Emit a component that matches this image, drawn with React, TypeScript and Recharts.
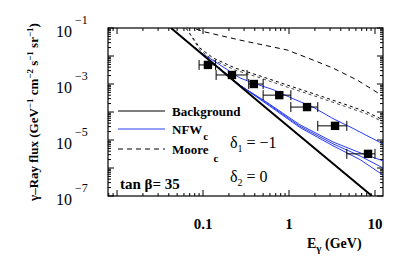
import React from 'react';
import { ComposedChart, Line, Scatter, XAxis, YAxis, ZAxis, ErrorBar, Customized } from 'recharts';

// ---------- data (energy in GeV, flux in GeV^-1 cm^-2 s^-1 sr^-1) ----------
const BACKGROUND = [
  { e: 0.0424, f: 0.1 },
  { e: 0.5, f: 1.71e-4 },
  { e: 9.23, f: 1e-7 },
];
const NFW_UPPER = [
  { e: 0.0424, f: 0.1 },
  { e: 0.092, f: 0.0139 },
  { e: 0.146, f: 5.6e-3 },
  { e: 0.269, f: 1.64e-3 },
  { e: 0.381, f: 1.09e-3 },
  { e: 0.652, f: 6.3e-4 },
  { e: 1.11, f: 3.0e-4 },
  { e: 1.9, f: 1.5e-4 },
  { e: 3.25, f: 5.8e-5 },
  { e: 5.55, f: 2.6e-5 },
  { e: 12.4, f: 7.2e-6 },
];
const NFW_LOW_A = [
  { e: 0.0424, f: 0.1 },
  { e: 0.269, f: 9e-4 },
  { e: 0.555, f: 2.2e-4 },
  { e: 1.34, f: 3.5e-5 },
  { e: 3.25, f: 8.5e-6 },
  { e: 6.7, f: 3.5e-6 },
  { e: 12.4, f: 1.8e-6 },
];
const NFW_LOW_B = [
  { e: 0.0424, f: 0.1 },
  { e: 0.269, f: 9e-4 },
  { e: 0.555, f: 2.05e-4 },
  { e: 1.34, f: 3.1e-5 },
  { e: 3.25, f: 7.3e-6 },
  { e: 6.7, f: 2.7e-6 },
  { e: 12.4, f: 1.0e-6 },
];
const NFW_LOW_C = [
  { e: 0.0424, f: 0.1 },
  { e: 0.269, f: 9e-4 },
  { e: 0.555, f: 1.9e-4 },
  { e: 1.34, f: 2.8e-5 },
  { e: 3.25, f: 6.2e-6 },
  { e: 6.7, f: 2.0e-6 },
  { e: 12.4, f: 5.6e-7 },
];
const MOORE_UPPER = [
  { e: 0.0829, f: 0.092 },
  { e: 0.1055, f: 0.072 },
  { e: 0.269, f: 0.037 },
  { e: 0.95, f: 0.0164 },
  { e: 1.9, f: 0.0072 },
  { e: 3.25, f: 0.0037 },
  { e: 6.18, f: 1.39e-3 },
  { e: 12.4, f: 3.7e-4 },
];
const MOORE_LOW_A = [
  { e: 0.0634, f: 0.1 },
  { e: 0.092, f: 0.0193 },
  { e: 0.131, f: 8.5e-3 },
  { e: 0.236, f: 3.7e-3 },
  { e: 0.425, f: 2.1e-3 },
  { e: 0.95, f: 9.2e-4 },
  { e: 2.17, f: 4.0e-4 },
  { e: 4.72, f: 1.78e-4 },
  { e: 8.07, f: 1.0e-4 },
  { e: 12.4, f: 5.2e-5 },
];
const MOORE_LOW_B = [
  { e: 0.0634, f: 0.1 },
  { e: 0.092, f: 0.0165 },
  { e: 0.131, f: 7.2e-3 },
  { e: 0.236, f: 3.15e-3 },
  { e: 0.425, f: 1.8e-3 },
  { e: 0.95, f: 7.8e-4 },
  { e: 2.17, f: 3.4e-4 },
  { e: 4.72, f: 1.5e-4 },
  { e: 8.07, f: 8.5e-5 },
  { e: 12.4, f: 4.4e-5 },
];
// measured points: energy, flux, bin low, bin high
const PT_E = [0.114, 0.217, 0.39, 0.77, 1.62, 3.43, 8.3];
const PT_F = [4.8e-3, 2.1e-3, 1.0e-3, 4.0e-4, 1.5e-4, 3.2e-5, 3.2e-6];
const PT_LO = [0.09, 0.142, 0.34, 0.5, 1.05, 2.16, 4.7];
const PT_HI = [0.14, 0.325, 0.5, 1.05, 2.16, 4.7, 10];
const POINTS = PT_E.map((e, i) => ({ e, f: PT_F[i], ex: [e - PT_LO[i], PT_HI[i] - e] }));

// ticks
const X_DECADES = [0.001, 0.01, 0.1, 1, 10];
const Y_DECADES = [1e-7, 1e-6, 1e-5, 1e-4, 1e-3, 1e-2, 1e-1];
const MINOR_MULT = [1, 2, 3, 4, 5, 6, 7, 8, 9];
const X_DOMAIN: [number, number] = [0.00785, 12.39];
const Y_DOMAIN: [number, number] = [1e-7, 1e-1];
const X_LABEL_VALUES = [0.1, 1, 10];
const X_LABEL_TEXT = ['0.1', '1', '10'];
const Y_LABEL_VALUES = [1e-1, 1e-3, 1e-5, 1e-7];
const Y_LABEL_EXP = ['\u22121', '\u22123', '\u22125', '\u22127'];

const X_TICKS = X_DECADES.flatMap((d) => MINOR_MULT.map((m) => m * d)).filter(
  (v) => v >= X_DOMAIN[0] && v <= X_DOMAIN[1]
);
const Y_TICKS = Y_DECADES.flatMap((d) => MINOR_MULT.map((m) => m * d)).filter(
  (v) => v >= Y_DOMAIN[0] * 0.999 && v <= Y_DOMAIN[1] * 1.001
);

// ---------- layout ----------
const W = 381;
const H = 246;
const M = { top: 20, right: 6, left: 40, bottom: 28 };
const YW = 60;
const XH = 30;
const PL = M.left + YW;
const PR = W - M.right;
const PT = M.top;
const PB = H - M.bottom - XH;
const FONT = 'Liberation Serif';
const BLUE = '#2a3cf0';

const isMajor = (v: number) => {
  const l = Math.log10(v);
  return Math.abs(l - Math.round(l)) < 1e-6;
};
const near = (a: number, b: number) => Math.abs(a / b - 1) < 1e-6;

const XTick = (props: any) => {
  const { x, payload } = props;
  const v = payload.value;
  const len = isMajor(v) ? 6 : 3;
  const li = X_LABEL_VALUES.findIndex((l) => near(l, v));
  return (
    <g>
      <line x1={x} x2={x} y1={PB} y2={PB - len} stroke="#000" strokeWidth={1} />
      <line x1={x} x2={x} y1={PT} y2={PT + len} stroke="#000" strokeWidth={1} />
      {li >= 0 && (
        <text x={x} y={PB + 33} textAnchor="middle" fontFamily={FONT} fontWeight="bold" fontSize={15} fill="#000">
          {X_LABEL_TEXT[li]}
        </text>
      )}
    </g>
  );
};

const YTick = (props: any) => {
  const { y, payload } = props;
  const v = payload.value;
  const len = isMajor(v) ? 6 : 3;
  const li = Y_LABEL_VALUES.findIndex((l) => near(l, v));
  return (
    <g>
      <line x1={PL} x2={PL + len} y1={y} y2={y} stroke="#000" strokeWidth={1} />
      <line x1={PR} x2={PR - len} y1={y} y2={y} stroke="#000" strokeWidth={1} />
      {li >= 0 && (
        <g>
          <text x={64} y={y + 9} textAnchor="end" fontFamily={FONT} fontSize={16} fill="#000">
            10
          </text>
          <text x={67} y={y - 4} textAnchor="start" fontFamily={FONT} fontSize={12} fill="#000">
            {Y_LABEL_EXP[li]}
          </text>
        </g>
      )}
    </g>
  );
};

const Overlay = () => (
  <g fill="#000" fontFamily={FONT}>
    <rect x={PL} y={PT} width={PR - PL} height={PB - PT} fill="none" stroke="#000" strokeWidth={1.2} />
    {/* legend */}
    <line x1={110} x2={157} y1={103} y2={103} stroke="#000" strokeWidth={1} />
    <text x={164} y={107.5} fontFamily={FONT} fontSize={13} fontWeight="bold">Background</text>
    <line x1={110} x2={157} y1={121} y2={121} stroke={BLUE} strokeWidth={1} />
    <text x={164} y={125.5} fontFamily={FONT} fontSize={13} fontWeight="bold">
      NFW
      <tspan dx={1} dy={6} fontSize={11}>c</tspan>
    </text>
    <line x1={110} x2={157} y1={141} y2={141} stroke="#000" strokeWidth={1} strokeDasharray="5 4" />
    <text x={164} y={146} fontFamily={FONT} fontSize={13} fontWeight="bold">
      Moore
      <tspan dx={5} dy={8} fontSize={11}>c</tspan>
    </text>
    <text x={112} y={181} fontFamily={FONT} fontSize={15} fontWeight="bold">tan β= 35</text>
    <text x={222} y={140} fontFamily={FONT} fontSize={16}>
      δ<tspan dy={4} fontSize={10}>1</tspan>
      <tspan dy={-4}> = −1</tspan>
    </text>
    <text x={222} y={174} fontFamily={FONT} fontSize={16}>
      δ<tspan dy={4} fontSize={10}>2</tspan>
      <tspan dy={-4}> =  0</tspan>
    </text>
    {/* axis titles */}
    <text x={299} y={240} fontFamily={FONT} fontSize={14} fontWeight="bold">
      E<tspan dy={4} fontSize={11}>γ</tspan>
      <tspan dy={-4}> (GeV)</tspan>
    </text>
    <text transform="translate(30,104) rotate(-90)" textAnchor="middle" fontFamily={FONT} fontSize={13} fontWeight="bold">
      γ–Ray flux (GeV<tspan dy={-5} fontSize={9}>−1</tspan>
      <tspan dy={5}> cm</tspan>
      <tspan dy={-5} fontSize={9}>−2</tspan>
      <tspan dy={5}> s</tspan>
      <tspan dy={-5} fontSize={9}>−1</tspan>
      <tspan dy={5}> sr</tspan>
      <tspan dy={-5} fontSize={9}>−1</tspan>
      <tspan dy={5}>)</tspan>
    </text>
  </g>
);

export default function App() {
  return (
    <div style={{ width: W, height: H }}>
      <ComposedChart width={W} height={H} margin={M}>
        <XAxis
          dataKey="e"
          type="number"
          scale="log"
          domain={X_DOMAIN}
          allowDataOverflow
          ticks={X_TICKS}
          interval={0}
          tick={<XTick />}
          tickLine={false}
          axisLine={false}
          tickSize={0}
          tickMargin={0}
          height={XH}
        />
        <YAxis
          dataKey="f"
          type="number"
          scale="log"
          domain={Y_DOMAIN}
          allowDataOverflow
          ticks={Y_TICKS}
          interval={0}
          tick={<YTick />}
          tickLine={false}
          axisLine={false}
          tickSize={0}
          tickMargin={0}
          width={YW}
        />
        <ZAxis range={[70, 70]} />
        <Line data={MOORE_UPPER} dataKey="f" stroke="#000" strokeWidth={1} strokeDasharray="5 4" dot={false} isAnimationActive={false} />
        <Line data={MOORE_LOW_A} dataKey="f" stroke="#000" strokeWidth={1} strokeDasharray="3 3" dot={false} isAnimationActive={false} />
        <Line data={MOORE_LOW_B} dataKey="f" stroke="#444" strokeWidth={1} strokeDasharray="3 3" dot={false} isAnimationActive={false} />
        <Line data={NFW_LOW_A} dataKey="f" stroke={BLUE} strokeWidth={1} dot={false} isAnimationActive={false} />
        <Line data={NFW_LOW_B} dataKey="f" stroke={BLUE} strokeWidth={1} dot={false} isAnimationActive={false} />
        <Line data={NFW_LOW_C} dataKey="f" stroke={BLUE} strokeWidth={1} dot={false} isAnimationActive={false} />
        <Line data={NFW_UPPER} dataKey="f" stroke={BLUE} strokeWidth={1} dot={false} isAnimationActive={false} />
        <Line data={BACKGROUND} dataKey="f" stroke="#000" strokeWidth={2} dot={false} isAnimationActive={false} />
        <Scatter data={POINTS} dataKey="f" fill="#000" shape="square" isAnimationActive={false}>
          <ErrorBar dataKey="ex" direction="x" width={5} stroke="#000" strokeWidth={1} isAnimationActive={false} />
        </Scatter>
        <Customized component={Overlay} />
      </ComposedChart>
    </div>
  );
}
